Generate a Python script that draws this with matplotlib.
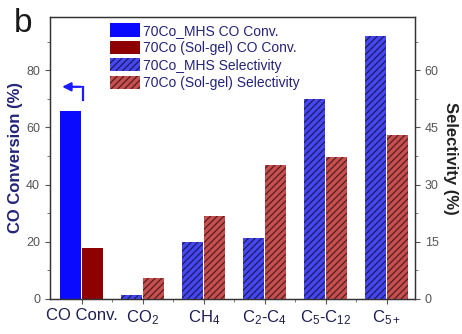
import numpy as np
import matplotlib.pyplot as plt

plt.rcParams['font.family'] = ['Liberation Sans', 'DejaVu Sans']
plt.rcParams['mathtext.fontset'] = 'custom'
plt.rcParams['mathtext.rm'] = 'Liberation Sans'
plt.rcParams['mathtext.it'] = 'Liberation Sans:italic'
plt.rcParams['mathtext.bf'] = 'Liberation Sans:bold'
plt.rcParams['hatch.linewidth'] = 0.9

categories = ['CO Conv.', 'CO$_2$', 'CH$_4$', 'C$_2$-C$_4$', 'C$_5$-C$_{12}$', 'C$_{5+}$']
conv_mhs = 65.7
conv_solgel = 17.8
sel_mhs = [0.9, 14.9, 15.9, 52.4, 69.0]
sel_solgel = [5.6, 21.7, 35.1, 37.2, 43.0]

navy = '#23237a'
x = np.arange(len(categories))
w = 0.345
off = 0.18

fig = plt.figure(figsize=(4.62, 3.34), dpi=100)
ax = fig.add_axes([0.108, 0.105, 0.79, 0.844])
ax2 = ax.twinx()

b1 = ax.bar(x[0] - off, conv_mhs, w, color='#0a0aff', lw=0, label='70Co_MHS CO Conv.')
b2 = ax.bar(x[0] + off, conv_solgel, w, color='#8e0000', lw=0, label='70Co (Sol-gel) CO Conv.')
b3 = ax2.bar(x[1:] - off, sel_mhs, w, facecolor='#4646f2', edgecolor='#1c1c5c', hatch='/////',
             lw=0, label='70Co_MHS Selectivity')
b4 = ax2.bar(x[1:] + off, sel_solgel, w, facecolor='#c45050', edgecolor='#5a1c1c', hatch='/////',
             lw=0, label='70Co (Sol-gel) Selectivity')

ax.set_xlim(-0.525, 5.46)
ax.set_ylim(0, 98.6)
ax2.set_ylim(0, 98.6 * 0.75)

ax.set_yticks([0, 20, 40, 60, 80])
ax.set_yticks(np.arange(10, 100, 20), minor=True)
ax2.set_yticks([0, 15, 30, 45, 60])
ax2.set_yticks(np.arange(7.5, 74, 15), minor=True)
ax.set_xticks(x)
ax.set_xticks(x[:-1] + 0.5, minor=True)
ax.set_xticklabels(categories, fontsize=12, color='#1e1e50')

for a in (ax, ax2):
    a.tick_params(which='major', length=3.5, width=0.8, color='#555555', labelsize=9,
                  labelcolor='#555555')
    a.tick_params(which='minor', length=2, width=0.7, color='#777777')
    for s in a.spines.values():
        s.set_color('#333333')
        s.set_linewidth(0.9)
ax.tick_params(axis='x', which='major', labelsize=12, labelcolor='#1e1e50', pad=3)

ax.set_ylabel('CO Conversion (%)', fontsize=12, fontweight='bold', color=navy, labelpad=2)
ax2.set_ylabel('Selectivity (%)', fontsize=12, fontweight='bold', color='#222222',
               rotation=270, labelpad=14)

# bent arrow pointing to the left axis
ax.plot([0.02, 0.02], [69.6, 74.2], color='#1a1aff', lw=1.6)
ax.annotate('', xy=(-0.37, 74.2), xytext=(0.03, 74.2),
            arrowprops=dict(arrowstyle='-|>,head_length=0.5,head_width=0.25',
                            color='#1a1aff', lw=1.6))

ax2.legend(handles=[b1, b2, b3, b4], loc='upper left', bbox_to_anchor=(0.164, 0.978),
           frameon=False, fontsize=10, labelcolor=navy, borderpad=0, borderaxespad=0,
           handlelength=2.2, handleheight=1.1, handletextpad=0.2, labelspacing=0.22)

fig.text(0.03, 0.975, 'b', fontsize=24, color='#1a1a1a', va='top', ha='left')

fig.savefig('out.png', dpi=100)
